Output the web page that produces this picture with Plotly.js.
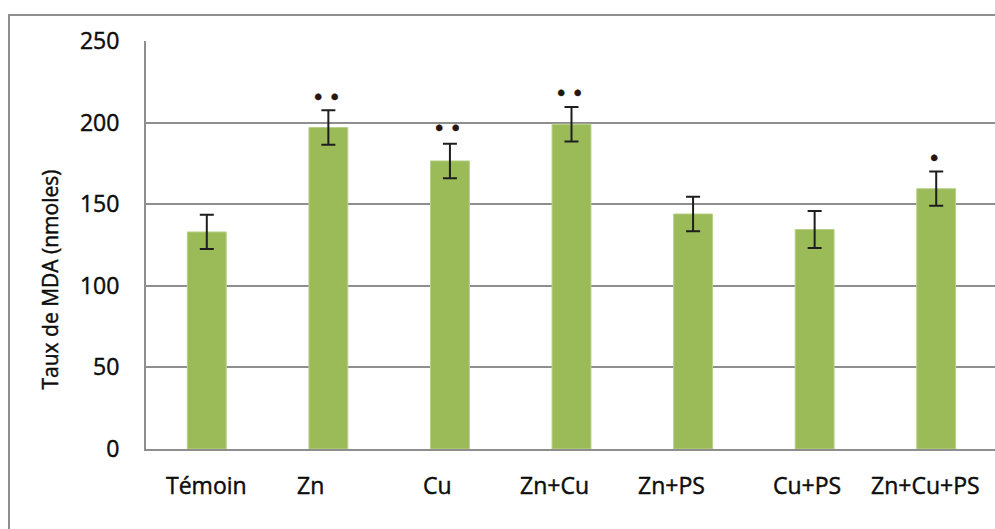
<!DOCTYPE html>
<html>
<head>
<meta charset="utf-8">
<script src="https://cdn.plot.ly/plotly-3.0.1.min.js"></script>
<style>
html,body{margin:0;padding:0;overflow:hidden;background:#fff;width:995px;height:529px;}
#frame{position:absolute;left:8px;top:14px;width:1200px;height:800px;border-left:2px solid #8e8e8e;border-top:2px solid #8e8e8e;}
#chart{position:absolute;left:0;top:0;width:999px;height:529px;}
#chart .ytick text, #chart .annotation-text{stroke:#0d0d0d !important;stroke-width:0.45px !important;}
</style>
</head>
<body>
<div id="frame"></div>
<div id="chart"></div>
<script>
// Data
const categories = ["Témoin", "Zn", "Cu", "Zn+Cu", "Zn+PS", "Cu+PS", "Zn+Cu+PS"];
const mdaValues  = [133, 197, 176.5, 199, 144, 134.5, 159.5];
const mdaErrors  = [10.5, 10.6, 10.6, 10.6, 10.5, 11.3, 10.5];
const significance = ["", "•\u2009•", "•\u2009•", "•\u2009•", "", "", "•"];
const yTickValues = [0, 50, 100, 150, 200, 250];

// Style-only offsets (label positions as drawn in the reference)
const labelShift = [0, -18, -12, -17, -22, -8, -11];
const starShift = [8, 8, 11, 9, 9, 9, 9];

const fontFam = "Open Sans, Liberation Sans, sans-serif";

const trace = {
  type: "bar",
  x: categories,
  y: mdaValues,
  width: 0.32,
  marker: {color: "#9bbb59", line: {color: "#b9d08a", width: 1}},
  error_y: {type: "data", array: mdaErrors, visible: true, color: "#1e1e1e", thickness: 2, width: 7},
  hoverinfo: "x+y"
};

const annotations = [];
categories.forEach((c, i) => {
  annotations.push({
    x: c, xref: "x", y: 0, yref: "paper", yanchor: "top", xanchor: "center",
    yshift: -18, xshift: labelShift[i], showarrow: false, text: c,
    font: {family: fontFam, size: 23, color: "#0d0d0d"}
  });
  if (significance[i]) {
    annotations.push({
      x: c, xref: "x", y: mdaValues[i] + mdaErrors[i], yref: "y", yanchor: "bottom",
      xanchor: "center", xshift: -2, yshift: starShift[i] - 10, showarrow: false,
      text: significance[i], font: {family: "DejaVu Sans, sans-serif", size: 21, color: "#2a1410"}
    });
  }
});
annotations.push({
  x: -0.113, xref: "paper", y: 0.415, yref: "paper", xanchor: "center", yanchor: "middle",
  textangle: -90, showarrow: false, text: "Taux de MDA (nmoles)",
  font: {family: fontFam, size: 21, color: "#0d0d0d"}
});

const layout = {
  width: 999, height: 529,
  margin: {l: 146, r: 2, t: 41, b: 80},
  paper_bgcolor: "rgba(0,0,0,0)",
  plot_bgcolor: "#ffffff",
  showlegend: false,
  bargap: 0.68,
  xaxis: {
    type: "category", showticklabels: false, showgrid: false,
    showline: true, linecolor: "#8e8e8e", linewidth: 2, ticks: "", zeroline: false,
    range: [-0.5, 6.5]
  },
  yaxis: {
    range: [0, 250], tickvals: yTickValues, ticktext: yTickValues.map(String),
    showgrid: true, gridcolor: "#8e8e8e", gridwidth: 2,
    showline: true, linecolor: "#8e8e8e", linewidth: 2, zeroline: false,
    ticks: "", ticklabelstandoff: 20,
    tickfont: {family: fontFam, size: 23, color: "#0d0d0d"}
  },
  annotations: annotations
};

Plotly.newPlot("chart", [trace], layout, {displayModeBar: false, staticPlot: true});
</script>
</body>
</html>
